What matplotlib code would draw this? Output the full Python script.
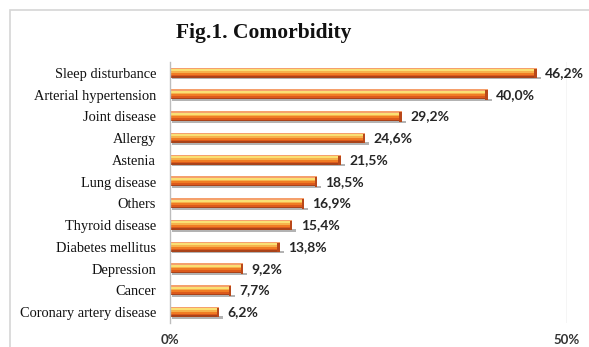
import matplotlib.pyplot as plt
from matplotlib.patches import Rectangle

# data, top to bottom as in the chart
categories = ["Sleep disturbance", "Arterial hypertension", "Joint disease", "Allergy",
              "Astenia", "Lung disease", "Others", "Thyroid disease",
              "Diabetes mellitus", "Depression", "Cancer", "Coronary artery disease"]
values = [46.2, 40.0, 29.2, 24.6, 21.5, 18.5, 16.9, 15.4, 13.8, 9.2, 7.7, 6.2]
value_labels = ["46,2%", "40,0%", "29,2%", "24,6%", "21,5%", "18,5%", "16,9%",
                "15,4%", "13,8%", "9,2%", "7,7%", "6,2%"]
xticks = [0, 50]
xtick_labels = ["0%", "50%"]

fig = plt.figure(figsize=(5.89, 3.47), dpi=100)
fig.patch.set_facecolor("white")

# light gray frame round the chart
fig.add_artist(Rectangle((10 / 589, -0.02), 1.0, 1 - 10 / 347 + 0.02,
                         transform=fig.transFigure, fill=False,
                         edgecolor="#d6d6d6", linewidth=1.2))

ax = fig.add_axes([170 / 589, 1 - 323 / 347, (567 - 170) / 589, (323 - 62) / 347])
ypos = list(range(len(categories)))

# shadow under each bar
ax.barh([y + 0.25 for y in ypos], [v + 0.3 for v in values], height=0.1,
        left=0.2, color="#b3b3b3", linewidth=0)

# gradient-ish bars made of stripes (offset, height, colour), top to bottom
stripes = [
    (0.18, 0.07, "#a9431a"),
    (0.11, 0.08, "#dc5a1c"),
    (0.03, 0.09, "#f07c24"),
    (-0.05, 0.08, "#f6b24c"),
    (-0.13, 0.09, "#fae074"),
    (-0.21, 0.07, "#f5a06c"),
]
for off, h, c in stripes:
    ax.barh([y + off for y in ypos], values, height=h, color=c, linewidth=0)
# darker cap at the right end
ax.barh([y + 0.02 for y in ypos], [0.3] * len(values), left=[v - 0.3 for v in values],
        height=0.44, color="#b9481a", linewidth=0)

for y, v, lab in zip(ypos, values, value_labels):
    ax.annotate(lab, (v, y), xytext=(6, 0), textcoords="offset points",
                va="center", ha="left", fontsize=10, fontweight="bold",
                family="Lato", color="#262626")

ax.set_xlim(0, 50)
ax.set_ylim(11.5, -0.5)
ax.set_yticks(ypos)
ax.set_yticklabels(categories, family="Liberation Serif", fontsize=10.4, color="#111111")
ax.set_xticks(xticks)
ax.set_xticklabels(xtick_labels, family="Lato", fontweight="bold", fontsize=9.5,
                   color="#333333")
ax.tick_params(axis="both", length=0)
ax.tick_params(axis="y", pad=10)
ax.tick_params(axis="x", pad=8)
ax.axvline(50, color="#d0d0d0", linewidth=1, zorder=0)
for s in ["top", "right", "bottom"]:
    ax.spines[s].set_visible(False)
ax.spines["left"].set_color("#bdbdbd")
ax.spines["left"].set_linewidth(1)

fig.text(264 / 589, 1 - 33 / 347, "Fig.1. Comorbidity", ha="center", va="center",
         family="Liberation Serif", fontweight="bold", fontsize=15.5, color="#111111")

fig.savefig("out.png", dpi=100)
